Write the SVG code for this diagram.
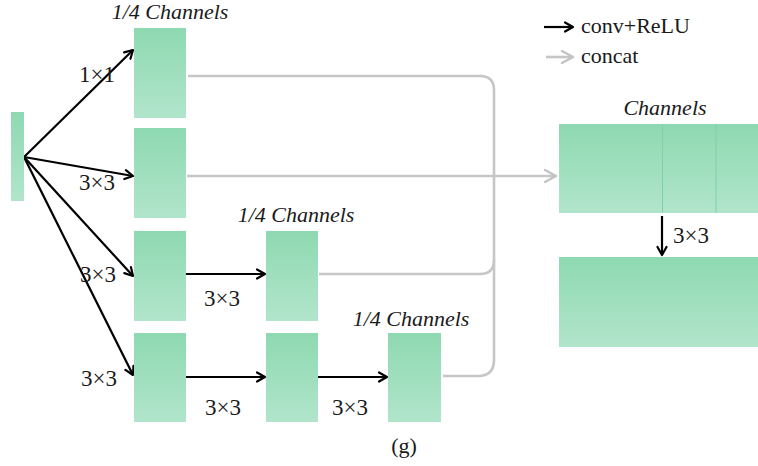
<svg xmlns="http://www.w3.org/2000/svg" width="758" height="466" viewBox="0 0 758 466">
  <defs>
    <linearGradient id="fm" x1="0" y1="0" x2="0" y2="1">
      <stop offset="0" stop-color="#8ed9b1"/>
      <stop offset="1" stop-color="#b1e5cb"/>
    </linearGradient>
    <marker id="ahB" viewBox="0 0 12 12" refX="10" refY="6" markerWidth="12" markerHeight="12" markerUnits="userSpaceOnUse" orient="auto">
      <path d="M2,1.5 L10,6 L2,10.5" fill="none" stroke="#000" stroke-width="2.2" stroke-linecap="round" stroke-linejoin="round"/>
    </marker>
    <marker id="ahG" viewBox="0 0 16 16" refX="14" refY="8" markerWidth="16" markerHeight="16" markerUnits="userSpaceOnUse" orient="auto">
      <path d="M3,2 L14,8 L3,14" fill="none" stroke="#c3c3c3" stroke-width="2.4" stroke-linecap="round" stroke-linejoin="round"/>
    </marker>
  </defs>
  <style>
    .fm { fill: url(#fm); }
    .div { stroke: #7fd0a6; stroke-width: 1; }
    .conv { fill: none; stroke: #000; stroke-width: 2.2; marker-end: url(#ahB); }
    .cat { fill: none; stroke: #c6c6c6; stroke-width: 2.6; }
  </style>
  <rect width="758" height="466" fill="#fff"/>

  <!-- concat paths (gray) -->
  <g id="concat-links">
    <path class="cat" d="M188,76 H480 Q494,76 494,90 V360 Q494,376 478,376 H443"/>
    <path class="cat" d="M319,274 H480 Q494,274 494,260"/>
    <path class="cat" d="M187,176 H556" marker-end="url(#ahG)"/>
  </g>

  <!-- conv+ReLU paths (black) -->
  <g id="conv-links">
    <line class="conv" x1="24" y1="157" x2="133" y2="50"/>
    <line class="conv" x1="24" y1="157" x2="133" y2="176"/>
    <line class="conv" x1="24" y1="157" x2="133" y2="276"/>
    <line class="conv" x1="24" y1="157" x2="133" y2="375"/>
    <line class="conv" x1="186" y1="274" x2="265" y2="274"/>
    <line class="conv" x1="186" y1="377" x2="265" y2="377"/>
    <line class="conv" x1="318" y1="377" x2="387" y2="377"/>
    <line class="conv" x1="662" y1="216" x2="662" y2="255"/>
  </g>

  <!-- feature maps -->
  <g id="input"><rect class="fm" x="11" y="112" width="13" height="89"/></g>
  <g id="b1"><rect class="fm" x="134" y="28" width="52" height="90"/></g>
  <g id="b2"><rect class="fm" x="134" y="128" width="52" height="90"/></g>
  <g id="b3a"><rect class="fm" x="134" y="231" width="52" height="90"/></g>
  <g id="b3b"><rect class="fm" x="266" y="231" width="52" height="90"/></g>
  <g id="b4a"><rect class="fm" x="134" y="333" width="52" height="89"/></g>
  <g id="b4b"><rect class="fm" x="266" y="333" width="52" height="89"/></g>
  <g id="b4c"><rect class="fm" x="388" y="333" width="53" height="89"/></g>
  <g id="concat-out">
    <rect class="fm" x="559" y="124" width="199" height="89"/>
    <line class="div" x1="662.5" y1="124" x2="662.5" y2="213"/>
    <line class="div" x1="716" y1="124" x2="716" y2="213"/>
  </g>
  <g id="fused-out"><rect class="fm" x="559" y="257" width="199" height="90"/></g>

  <!-- labels -->
  <g id="labels" font-family="'Liberation Serif', 'Times New Roman', serif" font-size="23" fill="#1a1a1a">
    <g font-style="italic" font-size="22" text-anchor="middle">
      <text x="170" y="19">1/4 Channels</text>
      <text x="296" y="222">1/4 Channels</text>
      <text x="411" y="326">1/4 Channels</text>
      <text x="665" y="115">Channels</text>
    </g>
    <text x="79" y="82">1×1</text>
    <text x="79" y="190">3×3</text>
    <text x="80" y="282">3×3</text>
    <text x="81" y="386">3×3</text>
    <text x="204" y="306">3×3</text>
    <text x="205" y="415">3×3</text>
    <text x="332" y="415">3×3</text>
    <text x="673" y="243">3×3</text>
    <text x="404" y="453" text-anchor="middle" font-size="22">(g)</text>
  </g>

  <!-- legend -->
  <g id="legend">
    <line class="conv" x1="544" y1="27" x2="573" y2="27"/>
    <path class="cat" d="M546,57 H573" marker-end="url(#ahG)"/>
    <g font-family="'Liberation Serif', 'Times New Roman', serif" font-size="22" fill="#1a1a1a">
      <text x="581" y="33">conv+ReLU</text>
      <text x="581" y="63">concat</text>
    </g>
  </g>
</svg>
